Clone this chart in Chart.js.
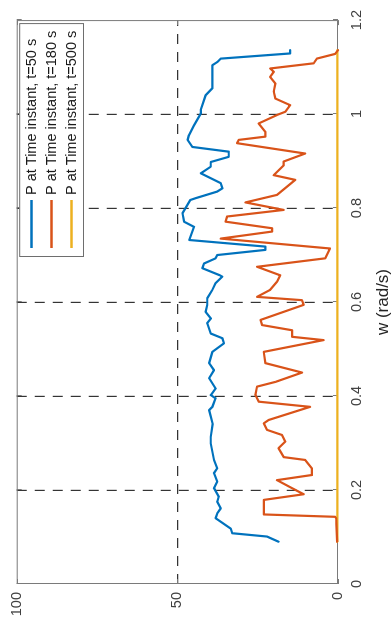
<!DOCTYPE html>
<html>
<head>
<meta charset="utf-8">
<script src="https://cdn.jsdelivr.net/npm/chart.js@4.4.1/dist/chart.umd.min.js"></script>
<style>
  html, body { margin: 0; padding: 0; background: #fff; overflow: hidden; }
  /* the plot is laid out landscape and turned a quarter turn */
  #wrap {
    position: absolute; left: 0; top: 0;
    width: 624px; height: 392px;
    transform-origin: 0 0;
    transform: translate(0, 624px) rotate(-90deg);
  }
</style>
</head>
<body>
<div id="wrap"><canvas id="chartP" width="624" height="392"></canvas></div>
<script>
// w (rad/s) and P for each time instant
const wT50 = [0.090, 0.101, 0.108, 0.118, 0.140, 0.150, 0.161, 0.175, 0.186, 0.204, 0.218, 0.236, 0.246, 0.264,
  0.299, 0.313, 0.340, 0.370, 0.377, 0.395, 0.402, 0.416, 0.438, 0.455, 0.470, 0.494, 0.512, 0.523, 0.533,
  0.555, 0.565, 0.579, 0.594, 0.608, 0.626, 0.640, 0.654, 0.657, 0.672, 0.682, 0.693, 0.700, 0.711, 0.718,
  0.732, 0.760, 0.771, 0.789, 0.817, 0.821, 0.835, 0.842, 0.853, 0.874, 0.888, 0.898, 0.909, 0.920, 0.930,
  0.945, 0.955, 0.975, 1.001, 1.009, 1.040, 1.055, 1.104, 1.111, 1.118, 1.129, 1.136];
const pT50 = [18.5, 22.1, 32.9, 33.4, 38.1, 37.6, 36.5, 37.6, 37.1, 38.6, 37.6, 38.6, 37.6, 38.6,
  39.6, 39.6, 39.0, 40.1, 39.1, 38.1, 39.6, 38.1, 40.1, 38.6, 40.1, 39.1, 35.5, 36.0, 39.6,
  40.7, 39.6, 41.2, 40.7, 40.7, 39.1, 38.1, 36.0, 36.8, 42.2, 41.7, 38.1, 37.6, 22.6, 22.6,
  46.3, 44.8, 47.9, 48.4, 46.0, 44.3, 37.6, 36.0, 36.5, 42.7, 39.6, 39.6, 34.0, 34.0, 45.3,
  46.8, 46.4, 44.9, 42.7, 42.7, 41.2, 39.1, 39.1, 37.5, 36.5, 14.9, 14.9];

const wT180 = [0.090, 0.140, 0.143, 0.148, 0.179, 0.191, 0.204, 0.221, 0.232, 0.246, 0.264, 0.270, 0.289,
  0.303, 0.317, 0.328, 0.342, 0.349, 0.377, 0.388, 0.402, 0.420, 0.430, 0.450, 0.470, 0.494, 0.519,
  0.526, 0.540, 0.551, 0.562, 0.594, 0.604, 0.611, 0.626, 0.643, 0.657, 0.675, 0.693, 0.714, 0.735,
  0.750, 0.757, 0.771, 0.782, 0.796, 0.812, 0.828, 0.860, 0.870, 0.891, 0.899, 0.916, 0.938, 0.945,
  0.952, 0.962, 0.980, 0.998, 1.005, 1.019, 1.033, 1.048, 1.065, 1.079, 1.090, 1.097, 1.108, 1.118,
  1.128, 1.136];
const pT180 = [0.3, 0.6, 0.9, 23.1, 23.1, 10.7, 14.3, 19.0, 8.1, 8.1, 10.2, 16.9, 18.5,
  16.4, 17.4, 22.1, 23.1, 21.6, 8.7, 24.7, 25.7, 25.2, 19.5, 11.2, 22.6, 23.1, 4.5,
  14.3, 14.3, 23.6, 24.1, 10.7, 11.2, 25.2, 21.1, 19.0, 18.0, 25.2, 4.0, 2.5, 36.5,
  20.5, 20.5, 35.0, 34.5, 16.9, 28.8, 19.0, 13.3, 20.0, 16.9, 16.9, 10.2, 31.4, 30.9,
  22.6, 22.6, 24.7, 19.0, 16.4, 14.9, 19.5, 20.0, 19.5, 21.1, 20.0, 21.1, 7.6, 6.6,
  0.9, 0.0];

const wT500 = [0.090, 0.400, 0.800, 1.136];
const pT500 = [0.2, 0.2, 0.2, 0.2];

const seriesNames = ['P at Time instant, t=50 s', 'P at Time instant, t=180 s', 'P at Time instant, t=500 s'];
const seriesColors = ['#0072BD', '#D95319', '#EDB120'];

const wTicks = [0, 0.2, 0.4, 0.6, 0.8, 1, 1.2];
const pTicks = [0, 50, 100];

function pares(ws, ps) {
  return ws.map((w, i) => ({ x: w, y: ps[i] }));
}

const fonte = 'Liberation Sans, Arial, Helvetica, sans-serif';
const corBox = '#7a7a7a';
const corGrade = 'rgba(30, 30, 30, 0.9)';

// box around the axes plus the small inward tick marks
const caixa = {
  id: 'caixa',
  beforeDatasetsDraw(chart) {
    const { ctx, chartArea: a, scales } = chart;
    ctx.save();
    ctx.strokeStyle = corBox;
    ctx.lineWidth = 1;
    ctx.setLineDash([]);
    ctx.strokeRect(a.left + 0.5, a.top + 0.5, a.right - a.left - 1, a.bottom - a.top - 1);
    ctx.beginPath();
    wTicks.forEach(t => {
      const x = Math.round(scales.x.getPixelForValue(t)) + 0.5;
      ctx.moveTo(x, a.top); ctx.lineTo(x, a.top + 5);
      ctx.moveTo(x, a.bottom); ctx.lineTo(x, a.bottom - 5);
    });
    pTicks.forEach(t => {
      const y = Math.round(scales.y.getPixelForValue(t)) + 0.5;
      ctx.moveTo(a.left, y); ctx.lineTo(a.left + 5, y);
      ctx.moveTo(a.right, y); ctx.lineTo(a.right - 5, y);
    });
    ctx.stroke();
    ctx.restore();
  }
};

// legend box, top-right inside the axes
const legenda = {
  id: 'legenda',
  afterDatasetsDraw(chart) {
    const { ctx, chartArea: a } = chart;
    const x0 = 367, x1 = a.right - 3, y0 = a.top + 2.5, y1 = 84;
    ctx.save();
    ctx.fillStyle = '#fff';
    ctx.fillRect(x0, y0, x1 - x0, y1 - y0);
    ctx.strokeStyle = '#6e6e6e';
    ctx.lineWidth = 1;
    ctx.strokeRect(x0 + 0.5, y0 + 0.5, x1 - x0 - 1, y1 - y0 - 1);
    ctx.font = '14.5px ' + fonte;
    ctx.textBaseline = 'middle';
    ctx.textAlign = 'left';
    chart.data.datasets.forEach((ds, i) => {
      const y = 31.5 + i * 20;
      ctx.strokeStyle = ds.borderColor;
      ctx.lineWidth = 2.4;
      ctx.beginPath();
      ctx.moveTo(376, y); ctx.lineTo(424, y);
      ctx.stroke();
      ctx.fillStyle = '#1a1a1a';
      ctx.fillText(ds.label, 429, y + 0.5);
    });
    ctx.restore();
  }
};

const semBorda = (ctx, lo, hi) => {
  const v = ctx.tick ? ctx.tick.value : null;
  return (v === lo || v === hi) ? 'rgba(0,0,0,0)' : corGrade;
};

new Chart(document.getElementById('chartP'), {
  type: 'line',
  data: {
    datasets: [
      { label: seriesNames[0], data: pares(wT50, pT50) },
      { label: seriesNames[1], data: pares(wT180, pT180) },
      { label: seriesNames[2], data: pares(wT500, pT500) }
    ].map((ds, i) => Object.assign(ds, {
      borderColor: seriesColors[i],
      backgroundColor: seriesColors[i],
      borderWidth: 2.2,
      pointRadius: 0,
      tension: 0,
      fill: false,
      clip: false,
      borderJoinStyle: 'round',
      borderCapStyle: 'round'
    }))
  },
  options: {
    responsive: false,
    animation: false,
    devicePixelRatio: 1,
    layout: { padding: { top: 15, right: 20, left: 0, bottom: 0 } },
    plugins: { legend: { display: false }, tooltip: { enabled: false } },
    scales: {
      x: {
        type: 'linear',
        min: 0, max: 1.2,
        afterBuildTicks: s => { s.ticks = wTicks.map(v => ({ value: v })); },
        afterFit: s => { s.height = 54; },
        grid: { color: c => semBorda(c, 0, 1.2), lineWidth: 1.2, drawTicks: false },
        border: { display: false, dash: [10, 8] },
        ticks: {
          padding: 10,
          color: '#404040',
          font: { family: fonte, size: 14.5 },
          maxRotation: 0,
          callback: v => String(v)
        },
        title: {
          display: true,
          text: 'w (rad/s)',
          color: '#262626',
          font: { family: fonte, size: 17, lineHeight: 1 },
          padding: { top: 0, bottom: 0 }
        }
      },
      y: {
        min: 0, max: 100,
        afterBuildTicks: s => { s.ticks = pTicks.map(v => ({ value: v })); },
        afterFit: s => { s.width = 40; },
        grid: { color: c => semBorda(c, 0, 100), lineWidth: 1.2, drawTicks: false },
        border: { display: false, dash: [10, 8] },
        ticks: {
          padding: 8,
          color: '#404040',
          font: { family: fonte, size: 14.5 }
        }
      }
    }
  },
  plugins: [caixa, legenda]
});
</script>
</body>
</html>
